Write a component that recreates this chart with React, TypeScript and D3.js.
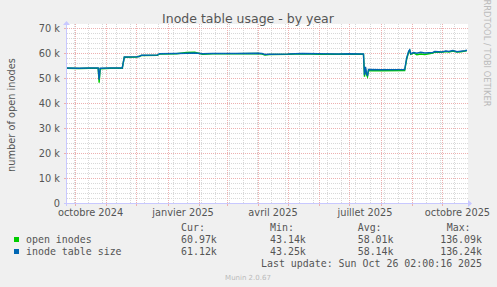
import React from "react";
import * as d3 from "d3";

const dates = [
  "2024-09-23","2024-10-05","2024-10-15","2024-10-24","2024-10-25","2024-10-26","2024-11-05","2024-11-17","2024-11-19","2024-12-01",
  "2024-12-04","2024-12-06","2024-12-22","2024-12-24","2025-01-10","2025-01-20","2025-01-28","2025-02-05","2025-02-15","2025-03-10",
  "2025-04-01","2025-04-05","2025-04-08","2025-04-12","2025-05-01","2025-05-15","2025-06-01","2025-06-20","2025-07-01","2025-07-15",
  "2025-07-16","2025-07-17","2025-07-18","2025-07-19","2025-07-20","2025-08-01","2025-08-25","2025-08-27","2025-08-29","2025-08-30",
  "2025-08-31","2025-09-03","2025-09-06","2025-09-10","2025-09-14","2025-09-22","2025-09-24","2025-10-01","2025-10-05","2025-10-08",
  "2025-10-12","2025-10-16","2025-10-20","2025-10-24","2025-10-26",
];
// thousands
const tableSize = [
  54.0,53.9,54.0,54.0,49.3,53.9,54.0,54.0,58.4,58.5,
  58.6,59.1,59.2,59.7,59.8,59.9,60.0,59.7,59.8,59.8,
  59.9,59.8,59.4,59.5,59.6,59.8,59.7,59.6,59.7,59.6,
  51.2,54.5,52.0,50.8,53.4,53.3,53.4,58.0,60.8,61.3,
  59.7,60.2,59.9,60.3,60.0,60.2,60.6,60.4,60.8,60.6,
  61.0,60.5,60.7,60.9,61.12,
];
const openInodes = [
  53.9,53.8,53.9,53.9,48.1,53.7,53.9,53.9,58.3,58.4,
  58.7,59.0,59.1,59.6,59.7,60.2,60.3,59.5,59.7,59.7,
  59.8,59.6,59.2,59.4,59.5,59.7,59.5,59.5,59.6,59.5,
  50.5,53.8,51.5,50.5,53.0,52.9,53.0,57.6,60.5,61.0,
  59.5,60.0,59.3,59.6,59.4,60.0,60.4,60.3,60.6,60.4,
  60.8,60.4,60.5,60.8,60.97,
];

const yTicks = [0, 10, 20, 30, 40, 50, 60, 70];
const yTickLabels = ["0", "10 k", "20 k", "30 k", "40 k", "50 k", "60 k", "70 k"];
const xLabelMonths = ["2024-10-01", "2025-01-01", "2025-04-01", "2025-07-01", "2025-10-01"];
const xLabelTexts = ["octobre 2024", "janvier 2025", "avril 2025", "juillet 2025", "octobre 2025"];

const legendNames = ["open inodes", "inode table size"];
const legendColors = ["#00CC00", "#0066B3"];
const curVals = ["60.97k", "61.12k"];
const minVals = ["43.14k", "43.25k"];
const avgVals = ["58.01k", "58.14k"];
const maxVals = ["136.09k", "136.24k"];

const W = 497, H = 287;
const L = 67, R = 468, T = 28, B = 203;

function pd(s: string) {
  const [y, m, d] = s.split("-").map(Number);
  return new Date(y, m - 1, d);
}

export default function App() {
  const x = d3.scaleTime().domain([new Date(2024, 8, 23), new Date(2025, 9, 27)]).range([L, R]);
  const y = d3.scaleLinear().domain([0, 70]).range([B, T]);
  const months = d3.timeMonth.range(new Date(2024, 8, 24), new Date(2025, 9, 27));
  const mondays = d3.timeMonday.range(new Date(2024, 8, 30), new Date(2025, 9, 27)).filter((_, i) => i % 2 === 0);
  const minorY = d3.range(0, 71, 2).filter((v) => v % 10 !== 0);
  const line = d3.line<[Date, number]>().x((d) => x(d[0])).y((d) => y(d[1]));
  const dd = dates.map(pd);
  const greenPath = line(dd.map((d, i) => [d, openInodes[i]]))!;
  const bluePath = line(dd.map((d, i) => [d, tableSize[i]]))!;
  const font = "'DejaVu Sans', sans-serif";
  const mono = "'DejaVu Sans Mono', monospace";
  const txt = "#555";
  const axisCol = "#C8C8FF";
  const major = "#EDB0B0";
  const minor = "#D8D8D8";
  const colX = [181, 270, 357.7, 482];
  return (
    <svg width={W} height={H} style={{ position: "absolute", left: 0, top: 0 }}>
      <rect x={0} y={0} width={W} height={H} fill="#F0F0F0" />
      <rect x={L} y={T - 4} width={R - L} height={B - T + 4} fill="#FFFFFF" />
      {/* minor grid */}
      {minorY.map((v) => (
        <line key={"my" + v} x1={L} x2={R} y1={y(v) + 0.5} y2={y(v) + 0.5} stroke={minor} strokeDasharray="1,1" />
      ))}
      {mondays.map((d, i) => (
        <line key={"mx" + i} x1={Math.round(x(d)) + 0.5} x2={Math.round(x(d)) + 0.5} y1={T - 4} y2={B} stroke={minor} strokeDasharray="1,1" />
      ))}
      {/* major grid */}
      {yTicks.filter((v) => v > 0).map((v) => (
        <line key={"My" + v} x1={L} x2={R} y1={y(v) + 0.5} y2={y(v) + 0.5} stroke={major} strokeDasharray="1,1" />
      ))}
      {months.map((d, i) => (
        <line key={"Mx" + i} x1={Math.round(x(d)) + 0.5} x2={Math.round(x(d)) + 0.5} y1={T - 4} y2={B} stroke={major} strokeDasharray="1,1" />
      ))}
      {/* ticks */}
      {months.map((d, i) => (
        <line key={"tx" + i} x1={Math.round(x(d)) + 0.5} x2={Math.round(x(d)) + 0.5} y1={B} y2={B + 3} stroke={major} />
      ))}
      {yTicks.map((v) => (
        <line key={"ty" + v} x1={L - 3} x2={L} y1={y(v) + 0.5} y2={y(v) + 0.5} stroke={major} />
      ))}
      {/* axes */}
      <line x1={L - 3} x2={R} y1={B + 0.5} y2={B + 0.5} stroke={axisCol} />
      <path d={`M${R},${B - 3} L${R + 4},${B + 0.5} L${R},${B + 4} Z`} fill={axisCol} />
      <line x1={L - 0.5} x2={L - 0.5} y1={B + 3} y2={T - 3} stroke={axisCol} />
      <path d={`M${L - 4},${T - 3} L${L - 0.5},${T - 7} L${L + 3},${T - 3} Z`} fill={axisCol} />
      {/* data */}
      <path d={greenPath} fill="none" stroke="#00CC00" strokeWidth={1.4} />
      <path d={bluePath} fill="none" stroke="#0066B3" strokeWidth={1.4} />
      {/* y labels */}
      {yTicks.map((v, i) => (
        <text key={"yl" + v} x={60} y={y(v) + 3.5} textAnchor="end" fontFamily={font} fontSize={9.8} fill={txt}>
          {yTickLabels[i]}
        </text>
      ))}
      {xLabelMonths.map((m, i) => {
        const d0 = pd(m);
        const d1 = d3.timeMonth.offset(d0, 1);
        const cx = (x(d0) + x(d1)) / 2;
        return (
          <text key={"xl" + i} x={cx} y={216} textAnchor="middle" fontFamily={font} fontSize={9.8} fill={txt}>
            {xLabelTexts[i]}
          </text>
        );
      })}
      <text x={248} y={23} textAnchor="middle" fontFamily={font} fontSize={12.5} fill={txt}>
        Inode table usage - by year
      </text>
      <text transform="translate(14.5,115) rotate(-90)" textAnchor="middle" fontFamily={font} fontSize={9.8} fill={txt}>
        number of open inodes
      </text>
      <text transform="translate(484,53) rotate(90)" textAnchor="middle" fontFamily={font} fontSize={8.3} fill="#BBBBBB">
        RRDTOOL / TOBI OETIKER
      </text>
      {/* legend */}
      <g fontFamily={mono} fontSize={9.93} fill={txt}>
        <text x={colX[0]} y={231}>Cur:</text>
        <text x={colX[1]} y={231}>Min:</text>
        <text x={colX[2]} y={231}>Avg:</text>
        <text x={446.7} y={231}>Max:</text>
        {legendNames.map((n, i) => (
          <g key={n}>
            <rect x={14} y={237 + i * 12} width={5} height={5} fill={legendColors[i]} />
            <text x={26} y={243 + i * 12}>{n}</text>
            <text x={colX[0]} y={243 + i * 12}>{curVals[i]}</text>
            <text x={colX[1]} y={243 + i * 12}>{minVals[i]}</text>
            <text x={colX[2]} y={243 + i * 12}>{avgVals[i]}</text>
            <text x={colX[3]} y={243 + i * 12} textAnchor="end">{maxVals[i]}</text>
          </g>
        ))}
        <text x={482} y={267} textAnchor="end">Last update: Sun Oct 26 02:00:16 2025</text>
      </g>
      <text x={248} y={280} textAnchor="middle" fontFamily={font} fontSize={7} fill="#BBBBBB">
        Munin 2.0.67
      </text>
    </svg>
  );
}
